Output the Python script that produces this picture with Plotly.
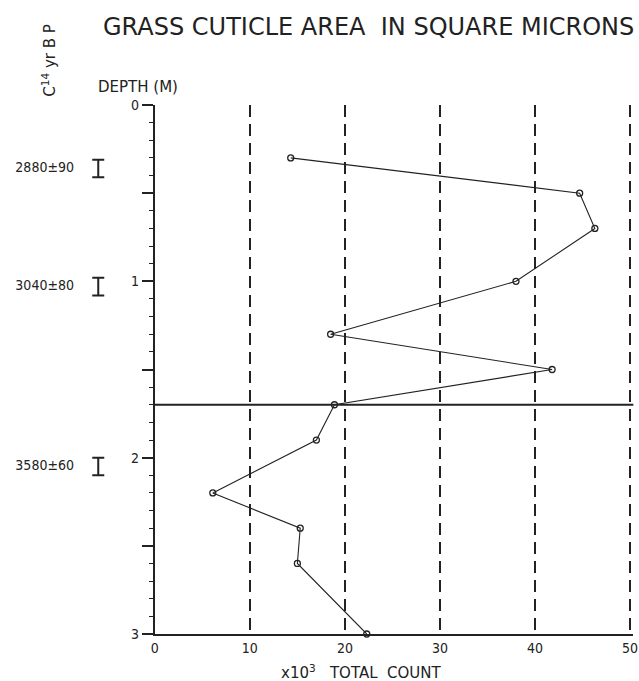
import plotly.graph_objects as go

# ---- data ----
depth_m = [0.30, 0.50, 0.70, 1.00, 1.30, 1.50, 1.70, 1.90, 2.20, 2.40, 2.60, 3.00]
count_k = [14.3, 44.7, 46.3, 38.0, 18.5, 41.8, 18.9, 17.0, 6.1, 15.3, 15.0, 22.3]

date_depths = [0.36, 1.03, 2.05]
date_labels = ["2880±90", "3040±80", "3580±60"]
date_err = [0.05, 0.05, 0.05]

boundary_depth = 1.70

x_ticks = [0, 10, 20, 30, 40, 50]
y_tickvals = [0, 0.5, 1, 1.5, 2, 2.5, 3]
y_ticktext = ["0", "", "1", "", "2", "", "3"]

FONT_C = "DejaVu Sans Condensed, Liberation Sans Narrow, DejaVu Sans, Arial"
FONT_W = "DejaVu Sans, Verdana, Arial"

W, H = 639, 681
ML, MR, MT, MB = 0, 4, 105, 47
PW = W - ML - MR
x0_px, x50_px = 152, 631
px_per_unit = (x50_px - x0_px) / 50
x_max = 50.35
x_start = x0_px / PW
x_end = (x0_px + px_per_unit * x_max) / PW

fig = go.Figure()

fig.add_trace(go.Scatter(
    x=count_k, y=depth_m, mode="lines+markers",
    line=dict(color="#222", width=1.1),
    marker=dict(symbol="circle-open", size=6, color="#222", line=dict(width=1.3)),
    showlegend=False, cliponaxis=False,
))

# radiocarbon dates (left panel)
fig.add_trace(go.Scatter(
    x=[41] * len(date_depths), y=date_depths, mode="text",
    text=date_labels, textfont=dict(family=FONT_C, size=14, color="#222"),
    xaxis="x2", yaxis="y", showlegend=False,
))
fig.add_trace(go.Scatter(
    x=[95] * len(date_depths), y=date_depths, mode="markers",
    marker=dict(size=0.1, color="#222"),
    error_y=dict(type="data", array=date_err, color="#222", thickness=2, width=6),
    xaxis="x2", yaxis="y", showlegend=False,
))

fig.add_shape(type="line", xref="x domain", yref="y", x0=0, x1=1,
              y0=boundary_depth, y1=boundary_depth, line=dict(color="#222", width=1.8))

fig.update_layout(
    width=W, height=H,
    margin=dict(l=ML, r=MR, t=MT, b=MB),
    paper_bgcolor="white", plot_bgcolor="white",
    font=dict(family=FONT_C, size=14, color="#222"),
    xaxis=dict(
        domain=[x_start, x_end], range=[0, x_max],
        tickvals=x_ticks, ticks="", showline=True, linecolor="#222", linewidth=2,
        showgrid=True, gridcolor="#222", gridwidth=1.6, griddash="12px,7px",
        zeroline=False, anchor="y", tickfont=dict(size=14),
        ticklabeloverflow="allow",
    ),
    xaxis2=dict(domain=[0, 139 / PW], range=[0, 139], visible=False, anchor="y"),
    yaxis=dict(
        range=[3, 0], tickvals=y_tickvals, ticktext=y_ticktext,
        ticks="outside", ticklen=11, tickwidth=1.5, tickcolor="#222",
        minor=dict(dtick=0.1, ticks="outside", ticklen=4, tickwidth=1.3, tickcolor="#222"),
        showline=True, linecolor="#222", linewidth=2, showgrid=False, zeroline=False,
        anchor="x", tickfont=dict(size=14),
    ),
    annotations=[
        dict(text="GRASS CUTICLE AREA\u00a0 IN SQUARE MICRONS", xref="paper", yref="paper",
             x=98 / PW, y=1, xanchor="left", yanchor="middle", yshift=78,
             showarrow=False, font=dict(family=FONT_W, size=24)),
        dict(text="DEPTH (M)", xref="paper", yref="paper",
             x=93 / PW, y=1, xanchor="left", yanchor="middle", yshift=18,
             showarrow=False, font=dict(family=FONT_W, size=15)),
        dict(text="C<sup>14</sup> yr B P", xref="paper", yref="paper",
             x=45 / PW, y=1, xanchor="center", yanchor="middle", yshift=45,
             textangle=-90, showarrow=False, font=dict(family=FONT_W, size=15)),
        dict(text="x10<sup>3</sup>\u00a0\u00a0 TOTAL\u00a0 COUNT", xref="paper", yref="paper",
             x=360 / PW, y=0, xanchor="center", yanchor="middle", yshift=-38,
             showarrow=False, font=dict(family=FONT_W, size=15)),
    ],
)

fig.write_html("out.html")
